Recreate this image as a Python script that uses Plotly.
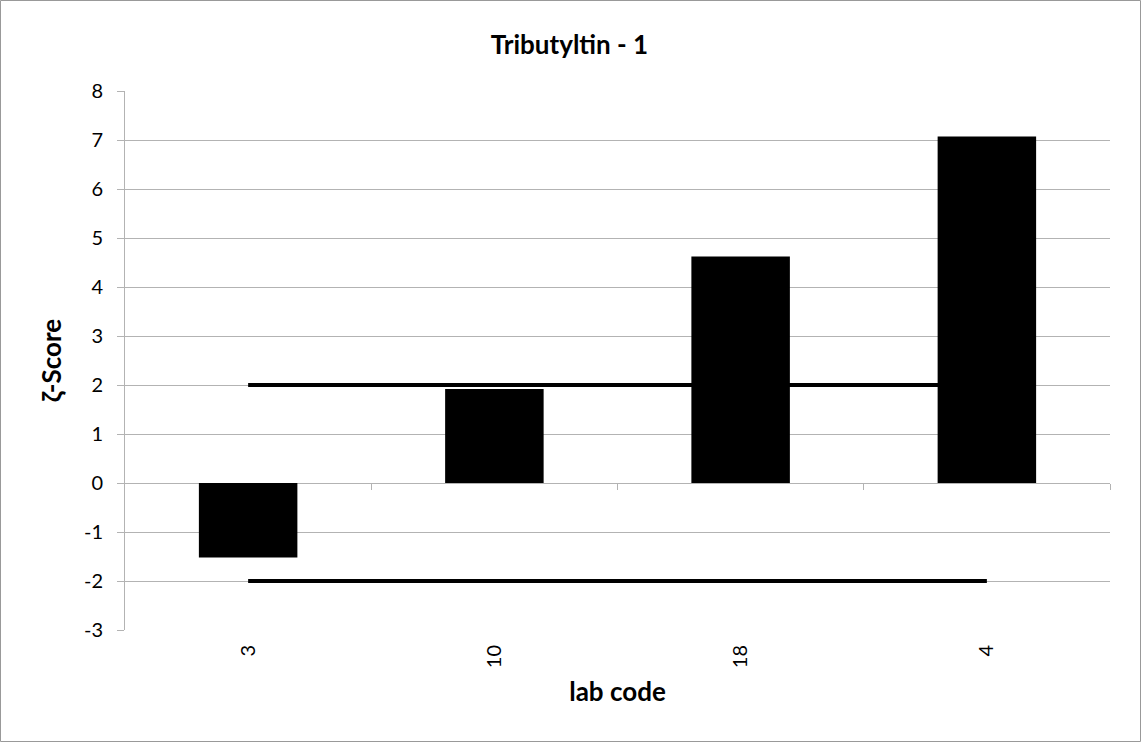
import plotly.graph_objects as go

labs = ["3", "10", "18", "4"]
scores = [-1.52, 1.92, 4.62, 7.07]
upper_limit = [2, 2]
lower_limit = [-2, -2]
y_ticks = [-3, -2, -1, 0, 1, 2, 3, 4, 5, 6, 7, 8]
y_tick_text = [str(v) for v in y_ticks]

idx = list(range(len(labs)))
limit_x = [idx[0], idx[-1]]
boundaries = [i + 0.5 for i in idx]

FONT = "Lato"
GRID = "#b3b3b3"

fig = go.Figure()
fig.add_trace(go.Bar(x=idx, y=scores, width=0.4, marker=dict(color="black", line=dict(width=0)),
                     showlegend=False))
fig.add_trace(go.Scatter(x=limit_x, y=upper_limit, mode="lines",
                         line=dict(color="black", width=4), showlegend=False))
fig.add_trace(go.Scatter(x=limit_x, y=lower_limit, mode="lines",
                         line=dict(color="black", width=4), showlegend=False))
# invisible trace for the zero-crossing tick axis
fig.add_trace(go.Scatter(x=boundaries, y=[0] * len(boundaries), xaxis="x2", mode="markers",
                         marker=dict(opacity=0), showlegend=False, hoverinfo="skip"))

ymin, ymax = y_ticks[0], y_ticks[-1]
dom_y = [0.0, 1.0]
W, H = 1141, 742
ml, mr, mt, mb = 125, 31, 91, 112
pw, ph = W - ml - mr, H - mt - mb
zero_frac = (0 - ymin) / (ymax - ymin)

fig.update_layout(
    width=W, height=H,
    margin=dict(l=ml, r=mr, t=mt, b=mb),
    paper_bgcolor="white", plot_bgcolor="white",
    font=dict(family=FONT, size=20, color="black"),
    title=dict(text="<b>Tributyltin - 1</b>", x=569.5 / W, xanchor="center",
               y=1 - 45 / H, yanchor="middle", font=dict(size=26, family=FONT)),
    xaxis=dict(range=[-0.5, len(labs) - 0.5], tickvals=idx, ticktext=labs, tickangle=-90,
               showgrid=False, zeroline=False, showline=False, ticks="", ticklabelstandoff=10,
               tickfont=dict(size=20),
               title=dict(text="<b>lab code</b>", font=dict(size=26), standoff=15)),
    xaxis2=dict(range=[-0.5, len(labs) - 0.5], overlaying="x", anchor="free",
                position=dom_y[0] + (dom_y[1] - dom_y[0]) * zero_frac, side="bottom",
                tickvals=boundaries, ticks="outside", ticklen=6, tickcolor=GRID,
                showticklabels=False, showgrid=False, zeroline=False, showline=False),
    yaxis=dict(range=[ymin, ymax], tickvals=y_ticks, ticktext=y_tick_text, domain=dom_y,
               showgrid=True, gridcolor=GRID, gridwidth=1,
               zeroline=True, zerolinecolor=GRID, zerolinewidth=1,
               showline=True, linecolor=GRID, linewidth=1,
               ticks="outside", ticklen=7, tickcolor=GRID, ticklabelstandoff=10,
               tickfont=dict(size=20),
               title=dict(text="<b>ζ-Score</b>", font=dict(size=26), standoff=14)),
    shapes=[dict(type="rect", xref="paper", yref="paper",
                 x0=-(ml - 0.5) / pw, x1=1 + (mr - 0.5) / pw,
                 y0=-(mb - 0.5) / ph, y1=1 + (mt - 0.5) / ph,
                 line=dict(color="#999999", width=1), layer="below")],
)

fig.write_html("out.html", config={"displayModeBar": False},
               post_script="document.body.style.margin='0px';")
